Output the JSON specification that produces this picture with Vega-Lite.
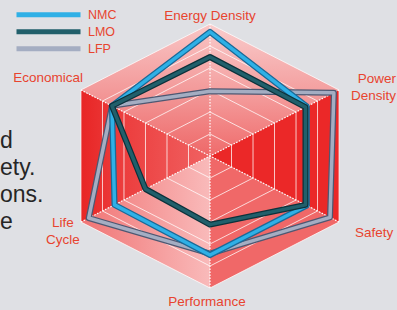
{
  "$schema": "https://vega.github.io/schema/vega-lite/v6.json",
  "width": 397,
  "height": 310,
  "autosize": {"type": "none"},
  "padding": 0,
  "background": "#dfe0e4",
  "config": {"view": {"stroke": null}},
  "datasets": {
    "series": [
      {"series": "NMC", "k": 0, "axis": "Energy Density", "value": 0.94},
      {"series": "NMC", "k": 1, "axis": "Power Density", "value": 0.75},
      {"series": "NMC", "k": 2, "axis": "Safety", "value": 0.75},
      {"series": "NMC", "k": 3, "axis": "Performance", "value": 0.75},
      {"series": "NMC", "k": 4, "axis": "Life Cycle", "value": 0.74},
      {"series": "NMC", "k": 5, "axis": "Economical", "value": 0.76},
      {"series": "LMO", "k": 0, "axis": "Energy Density", "value": 0.75},
      {"series": "LMO", "k": 1, "axis": "Power Density", "value": 0.74},
      {"series": "LMO", "k": 2, "axis": "Safety", "value": 0.74},
      {"series": "LMO", "k": 3, "axis": "Performance", "value": 0.52},
      {"series": "LMO", "k": 4, "axis": "Life Cycle", "value": 0.5},
      {"series": "LMO", "k": 5, "axis": "Economical", "value": 0.76},
      {"series": "LFP", "k": 0, "axis": "Energy Density", "value": 0.49},
      {"series": "LFP", "k": 1, "axis": "Power Density", "value": 0.96},
      {"series": "LFP", "k": 2, "axis": "Safety", "value": 0.93},
      {"series": "LFP", "k": 3, "axis": "Performance", "value": 0.74},
      {"series": "LFP", "k": 4, "axis": "Life Cycle", "value": 0.94},
      {"series": "LFP", "k": 5, "axis": "Economical", "value": 0.76}
    ],
    "labels": [
      {"k": 0, "label": "Energy Density"},
      {"k": 1, "label": "Power\nDensity"},
      {"k": 2, "label": "Safety"},
      {"k": 3, "label": "Performance"},
      {"k": 4, "label": "Life\nCycle"},
      {"k": 5, "label": "Economical"}
    ]
  },
  "encoding": {
    "x": {"field": "px", "type": "quantitative", "scale": {"domain": [-1.4094, 1.255], "nice": false, "zero": false}, "axis": null},
    "y": {"field": "py", "type": "quantitative", "scale": {"domain": [-1.16667, 1.18182], "nice": false, "zero": false}, "axis": null}
  },
  "layer": [
    {
      "data": {"values": [{"p": 0, "k": 0, "r": 0}, {"p": 1, "k": 0, "r": 1}, {"p": 2, "k": 1, "r": 1}]},
      "transform": [{"calculate": "datum.r*sin(datum.k*PI/3)", "as": "px"}, {"calculate": "datum.r*cos(datum.k*PI/3)", "as": "py"}],
      "mark": {"type": "line", "interpolate": "linear-closed", "strokeWidth": 0,
        "fill": {"gradient": "linear", "x1": 0, "y1": 0, "x2": 0, "y2": 1, "stops": [{"offset": 0, "color": "#f9cccc"}, {"offset": 0.5, "color": "#f4a0a0"}, {"offset": 1, "color": "#ef6b6b"}]}},
      "encoding": {"order": {"field": "p", "type": "quantitative"}}
    },
    {
      "data": {"values": [{"p": 0, "k": 1, "r": 0}, {"p": 1, "k": 1, "r": 1}, {"p": 2, "k": 2, "r": 1}]},
      "transform": [{"calculate": "datum.r*sin(datum.k*PI/3)", "as": "px"}, {"calculate": "datum.r*cos(datum.k*PI/3)", "as": "py"}],
      "mark": {"type": "line", "interpolate": "linear-closed", "strokeWidth": 0, "fill": "#eb2828"},
      "encoding": {"order": {"field": "p", "type": "quantitative"}}
    },
    {
      "data": {"values": [{"p": 0, "k": 2, "r": 0}, {"p": 1, "k": 2, "r": 1}, {"p": 2, "k": 3, "r": 1}]},
      "transform": [{"calculate": "datum.r*sin(datum.k*PI/3)", "as": "px"}, {"calculate": "datum.r*cos(datum.k*PI/3)", "as": "py"}],
      "mark": {"type": "line", "interpolate": "linear-closed", "strokeWidth": 0, "fill": "#f06868"},
      "encoding": {"order": {"field": "p", "type": "quantitative"}}
    },
    {
      "data": {"values": [{"p": 0, "k": 3, "r": 0}, {"p": 1, "k": 3, "r": 1}, {"p": 2, "k": 4, "r": 1}]},
      "transform": [{"calculate": "datum.r*sin(datum.k*PI/3)", "as": "px"}, {"calculate": "datum.r*cos(datum.k*PI/3)", "as": "py"}],
      "mark": {"type": "line", "interpolate": "linear-closed", "strokeWidth": 0,
        "fill": {"gradient": "linear", "x1": 0, "y1": 0, "x2": 1, "y2": 0, "stops": [{"offset": 0, "color": "#f07474"}, {"offset": 1, "color": "#f9baba"}]}},
      "encoding": {"order": {"field": "p", "type": "quantitative"}}
    },
    {
      "data": {"values": [{"p": 0, "k": 4, "r": 0}, {"p": 1, "k": 4, "r": 1}, {"p": 2, "k": 5, "r": 1}]},
      "transform": [{"calculate": "datum.r*sin(datum.k*PI/3)", "as": "px"}, {"calculate": "datum.r*cos(datum.k*PI/3)", "as": "py"}],
      "mark": {"type": "line", "interpolate": "linear-closed", "strokeWidth": 0,
        "fill": {"gradient": "linear", "x1": 0, "y1": 0, "x2": 1, "y2": 0, "stops": [{"offset": 0, "color": "#e82525"}, {"offset": 0.3, "color": "#ec3c3c"}, {"offset": 1, "color": "#f06262"}]}},
      "encoding": {"order": {"field": "p", "type": "quantitative"}}
    },
    {
      "data": {"values": [{"p": 0, "k": 5, "r": 0}, {"p": 1, "k": 5, "r": 1}, {"p": 2, "k": 6, "r": 1}]},
      "transform": [{"calculate": "datum.r*sin(datum.k*PI/3)", "as": "px"}, {"calculate": "datum.r*cos(datum.k*PI/3)", "as": "py"}],
      "mark": {"type": "line", "interpolate": "linear-closed", "strokeWidth": 0,
        "fill": {"gradient": "linear", "x1": 0, "y1": 0, "x2": 0, "y2": 1, "stops": [{"offset": 0, "color": "#f9c6c6"}, {"offset": 0.5, "color": "#f39a9a"}, {"offset": 1, "color": "#ee6868"}]}},
      "encoding": {"order": {"field": "p", "type": "quantitative"}}
    },
    {
      "data": {"values": [
        {"ring": 1, "k": [0, 1, 2, 3, 4, 5]},
        {"ring": 2, "k": [0, 1, 2, 3, 4, 5]},
        {"ring": 3, "k": [0, 1, 2, 3, 4, 5]},
        {"ring": 4, "k": [0, 1, 2, 3, 4, 5]},
        {"ring": 5, "k": [0, 1, 2, 3, 4, 5]},
        {"ring": 6, "k": [0, 1, 2, 3, 4, 5]}
      ]},
      "transform": [{"flatten": ["k"]}, {"calculate": "datum.ring/6", "as": "r"}, {"calculate": "datum.r*sin(datum.k*PI/3)", "as": "px"}, {"calculate": "datum.r*cos(datum.k*PI/3)", "as": "py"}],
      "mark": {"type": "line", "interpolate": "linear-closed", "color": "#ffffff", "strokeWidth": 1, "strokeOpacity": 0.75},
      "encoding": {"detail": {"field": "ring", "type": "nominal"}, "order": {"field": "k", "type": "quantitative"}}
    },
    {
      "data": {"values": [{"k": 0}, {"k": 1}, {"k": 2}, {"k": 3}, {"k": 4}, {"k": 5}]},
      "transform": [{"calculate": "sin(datum.k*PI/3)", "as": "px"}, {"calculate": "cos(datum.k*PI/3)", "as": "py"}],
      "mark": {"type": "rule", "color": "#ffffff", "strokeWidth": 1.2, "strokeDash": [1.5, 1.5]},
      "encoding": {"x2": {"datum": 0}, "y2": {"datum": 0}}
    },
    {
      "data": {"name": "series"},
      "transform": [{"filter": "datum.series === 'LFP'"}, {"calculate": "datum.value*sin(datum.k*PI/3)", "as": "px"}, {"calculate": "datum.value*cos(datum.k*PI/3)", "as": "py"}],
      "mark": {"type": "line", "interpolate": "linear-closed", "color": "#4e5872", "strokeWidth": 6, "strokeJoin": "round", "strokeCap": "round"},
      "encoding": {"order": {"field": "k", "type": "quantitative"}}
    },
    {
      "data": {"name": "series"},
      "transform": [{"filter": "datum.series === 'LFP'"}, {"calculate": "datum.value*sin(datum.k*PI/3)", "as": "px"}, {"calculate": "datum.value*cos(datum.k*PI/3)", "as": "py"}],
      "mark": {"type": "line", "interpolate": "linear-closed", "strokeWidth": 3.5, "strokeJoin": "round", "strokeCap": "round"},
      "encoding": {
        "order": {"field": "k", "type": "quantitative"},
        "color": {"field": "series", "type": "nominal", "scale": {"domain": ["NMC", "LMO", "LFP"], "range": ["#2fb0e6", "#215f6b", "#a4adc2"]},
          "legend": {"orient": "none", "legendX": 14, "legendY": 6.5, "title": null, "symbolType": "stroke", "symbolSize": 4096, "symbolStrokeWidth": 5, "clipHeight": 16.5, "rowPadding": 0, "labelOffset": 5, "labelFont": "Liberation Sans, Arial, sans-serif", "labelFontSize": 12.5, "labelColor": "#e8442f", "padding": 0}}
      }
    },
    {
      "data": {"name": "series"},
      "transform": [{"filter": "datum.series === 'NMC'"}, {"calculate": "datum.value*sin(datum.k*PI/3)", "as": "px"}, {"calculate": "datum.value*cos(datum.k*PI/3)", "as": "py"}],
      "mark": {"type": "line", "interpolate": "linear-closed", "color": "#1a6a98", "strokeWidth": 6, "strokeJoin": "round", "strokeCap": "round"},
      "encoding": {"order": {"field": "k", "type": "quantitative"}}
    },
    {
      "data": {"name": "series"},
      "transform": [{"filter": "datum.series === 'NMC'"}, {"calculate": "datum.value*sin(datum.k*PI/3)", "as": "px"}, {"calculate": "datum.value*cos(datum.k*PI/3)", "as": "py"}],
      "mark": {"type": "line", "interpolate": "linear-closed", "strokeWidth": 3.5, "strokeJoin": "round", "strokeCap": "round"},
      "encoding": {
        "order": {"field": "k", "type": "quantitative"},
        "color": {"field": "series", "type": "nominal", "scale": {"domain": ["NMC", "LMO", "LFP"], "range": ["#2fb0e6", "#215f6b", "#a4adc2"]},
          "legend": {"orient": "none", "legendX": 14, "legendY": 6.5, "title": null, "symbolType": "stroke", "symbolSize": 4096, "symbolStrokeWidth": 5, "clipHeight": 16.5, "rowPadding": 0, "labelOffset": 5, "labelFont": "Liberation Sans, Arial, sans-serif", "labelFontSize": 12.5, "labelColor": "#e8442f", "padding": 0}}
      }
    },
    {
      "data": {"name": "series"},
      "transform": [{"filter": "datum.series === 'LMO'"}, {"calculate": "datum.value*sin(datum.k*PI/3)", "as": "px"}, {"calculate": "datum.value*cos(datum.k*PI/3)", "as": "py"}],
      "mark": {"type": "line", "interpolate": "linear-closed", "color": "#0c323b", "strokeWidth": 6, "strokeJoin": "round", "strokeCap": "round"},
      "encoding": {"order": {"field": "k", "type": "quantitative"}}
    },
    {
      "data": {"name": "series"},
      "transform": [{"filter": "datum.series === 'LMO'"}, {"calculate": "datum.value*sin(datum.k*PI/3)", "as": "px"}, {"calculate": "datum.value*cos(datum.k*PI/3)", "as": "py"}],
      "mark": {"type": "line", "interpolate": "linear-closed", "strokeWidth": 3.5, "strokeJoin": "round", "strokeCap": "round"},
      "encoding": {
        "order": {"field": "k", "type": "quantitative"},
        "color": {"field": "series", "type": "nominal", "scale": {"domain": ["NMC", "LMO", "LFP"], "range": ["#2fb0e6", "#215f6b", "#a4adc2"]},
          "legend": {"orient": "none", "legendX": 14, "legendY": 6.5, "title": null, "symbolType": "stroke", "symbolSize": 4096, "symbolStrokeWidth": 5, "clipHeight": 16.5, "rowPadding": 0, "labelOffset": 5, "labelFont": "Liberation Sans, Arial, sans-serif", "labelFontSize": 12.5, "labelColor": "#e8442f", "padding": 0}}
      }
    },
    {
      "data": {"name": "labels"},
      "transform": [{"filter": "datum.k === 0"}, {"calculate": "sin(datum.k*PI/3)", "as": "px"}, {"calculate": "cos(datum.k*PI/3)", "as": "py"}],
      "mark": {"type": "text", "align": "center", "baseline": "alphabetic", "dx": 0, "dy": -4, "font": "Liberation Sans, Arial, sans-serif", "fontSize": 13.5, "color": "#e8442f", "lineBreak": "\n", "lineHeight": 17},
      "encoding": {"text": {"field": "label", "type": "nominal"}}
    },
    {
      "data": {"name": "labels"},
      "transform": [{"filter": "datum.k === 1"}, {"calculate": "sin(datum.k*PI/3)", "as": "px"}, {"calculate": "cos(datum.k*PI/3)", "as": "py"}],
      "mark": {"type": "text", "align": "right", "baseline": "alphabetic", "dx": 57, "dy": -7, "font": "Liberation Sans, Arial, sans-serif", "fontSize": 13.5, "color": "#e8442f", "lineBreak": "\n", "lineHeight": 17},
      "encoding": {"text": {"field": "label", "type": "nominal"}}
    },
    {
      "data": {"name": "labels"},
      "transform": [{"filter": "datum.k === 2"}, {"calculate": "sin(datum.k*PI/3)", "as": "px"}, {"calculate": "cos(datum.k*PI/3)", "as": "py"}],
      "mark": {"type": "text", "align": "left", "baseline": "alphabetic", "dx": 16, "dy": 15, "font": "Liberation Sans, Arial, sans-serif", "fontSize": 13.5, "color": "#e8442f", "lineBreak": "\n", "lineHeight": 17},
      "encoding": {"text": {"field": "label", "type": "nominal"}}
    },
    {
      "data": {"name": "labels"},
      "transform": [{"filter": "datum.k === 3"}, {"calculate": "sin(datum.k*PI/3)", "as": "px"}, {"calculate": "cos(datum.k*PI/3)", "as": "py"}],
      "mark": {"type": "text", "align": "center", "baseline": "alphabetic", "dx": -3, "dy": 18, "font": "Liberation Sans, Arial, sans-serif", "fontSize": 13.5, "color": "#e8442f", "lineBreak": "\n", "lineHeight": 17},
      "encoding": {"text": {"field": "label", "type": "nominal"}}
    },
    {
      "data": {"name": "labels"},
      "transform": [{"filter": "datum.k === 4"}, {"calculate": "sin(datum.k*PI/3)", "as": "px"}, {"calculate": "cos(datum.k*PI/3)", "as": "py"}],
      "mark": {"type": "text", "align": "center", "baseline": "alphabetic", "dx": -18, "dy": 5, "font": "Liberation Sans, Arial, sans-serif", "fontSize": 13.5, "color": "#e8442f", "lineBreak": "\n", "lineHeight": 17},
      "encoding": {"text": {"field": "label", "type": "nominal"}}
    },
    {
      "data": {"name": "labels"},
      "transform": [{"filter": "datum.k === 5"}, {"calculate": "sin(datum.k*PI/3)", "as": "px"}, {"calculate": "cos(datum.k*PI/3)", "as": "py"}],
      "mark": {"type": "text", "align": "right", "baseline": "alphabetic", "dx": 2, "dy": -8, "font": "Liberation Sans, Arial, sans-serif", "fontSize": 13.5, "color": "#e8442f", "lineBreak": "\n", "lineHeight": 17},
      "encoding": {"text": {"field": "label", "type": "nominal"}}
    },
    {
      "data": {"values": [{"t": "d\nety.\n\u00a0\nons.\ne"}]},
      "transform": [{"calculate": "-1.4094", "as": "px"}, {"calculate": "0.0606", "as": "py"}],
      "mark": {"type": "text", "align": "left", "baseline": "alphabetic", "font": "Liberation Sans, Arial, sans-serif", "fontSize": 23, "color": "#262626", "lineBreak": "\n", "lineHeight": 27},
      "encoding": {"text": {"field": "t", "type": "nominal"}}
    }
  ]
}
